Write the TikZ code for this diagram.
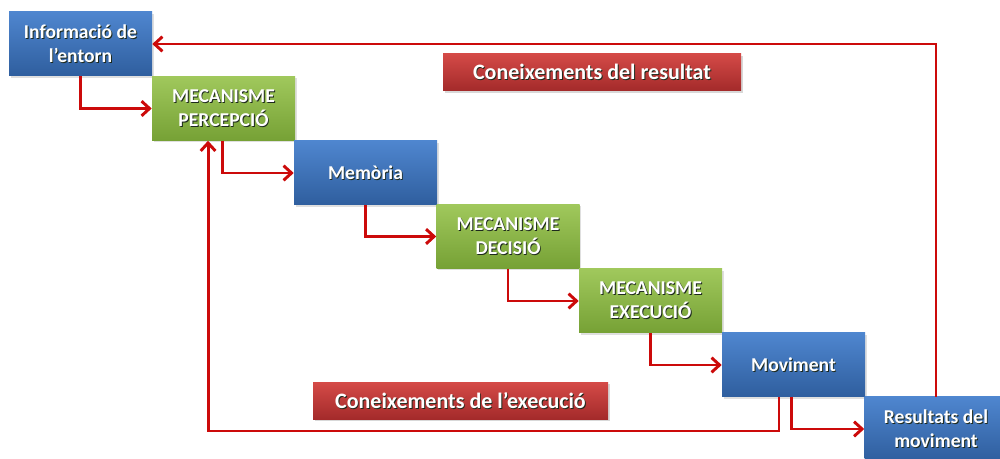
\documentclass[tikz,border=0pt]{standalone}
\usepackage{fontspec}
\setmainfont{Carlito}
\usetikzlibrary{arrows.meta,shadows}
\definecolor{bluetop}{HTML}{4F86CF}
\definecolor{bluebot}{HTML}{2F5E9E}
\definecolor{greentop}{HTML}{A0C85C}
\definecolor{greenbot}{HTML}{76A135}
\definecolor{redtop}{HTML}{D44A47}
\definecolor{redbot}{HTML}{A32A2A}
\definecolor{arrowred}{HTML}{CC0A0A}
\definecolor{txtshadow}{HTML}{2A3A2A}
\newcommand{\sht}[1]{\leavevmode\rlap{\hspace{0.7pt}\raisebox{-0.7pt}{\textcolor{txtshadow!70!black}{#1}}}#1}
\tikzset{
  box/.style={rectangle, minimum width=107.25pt, minimum height=48pt, inner sep=1pt,
    text=white, align=center, font=\bfseries\fontsize{14.7}{18}\selectfont,
    drop shadow={shadow xshift=1.2pt, shadow yshift=-1.2pt, opacity=0.25}},
  bluebox/.style={box, top color=bluetop, bottom color=bluebot},
  greenbox/.style={box, top color=greentop, bottom color=greenbot},
  labelbox/.style={rectangle, inner sep=0pt, text=white, font=\bfseries\fontsize{16.5}{20}\selectfont,
    top color=redtop, bottom color=redbot, minimum height=27.75pt,
    drop shadow={shadow xshift=1.2pt, shadow yshift=-1.2pt, opacity=0.3}},
  conn/.style={draw=arrowred, line width=2.2pt, -{Straight Barb[length=6pt,width=11pt,line width=2.2pt]}}
}
\begin{document}
\begin{tikzpicture}[x=0.75pt,y=-0.75pt]
\useasboundingbox (0,0) rectangle (1000,459);
\clip (0,0) rectangle (1000,459);
\fill[white] (0,0) rectangle (1000,459);

\node[bluebox] (info) at (80.5,44) {\sht{Informació de}\\\sht{l’entorn}};
\node[greenbox] (perc) at (223.5,108.5) {\sht{MECANISME}\\\sht{PERCEPCIÓ}};
\node[bluebox] (mem) at (365.5,173) {\sht{Memòria}};
\node[greenbox] (dec) at (508,236.5) {\sht{MECANISME}\\\sht{DECISIÓ}};
\node[greenbox] (exe) at (650.5,301) {\sht{MECANISME}\\\sht{EXECUCIÓ}};
\node[bluebox] (mov) at (793.5,365) {\sht{Moviment}};
\node[bluebox] (res) at (936,429) {\sht{Resultats del}\\\sht{moviment}};

\node[labelbox, minimum width=223.5pt] (kr) at (592,72.5) {\sht{Coneixements del resultat}};
\node[labelbox, minimum width=221.25pt] (ke) at (460.5,401) {\sht{Coneixements de l’execució}};

\draw[conn] (info.south) |- (perc.west);
\draw[conn] ([xshift=-1pt]perc.south) |- (mem.west);
\draw[conn] (mem.south) |- (dec.west);
\draw[conn] (dec.south) |- (exe.west);
\draw[conn] (exe.south) |- (mov.west);
\draw[conn] ([xshift=-1.5pt]mov.south) |- (res.west);
\coordinate (fbturn) at ([xshift=-10.9pt]mov.south |- 0,431);
\draw[conn] ([xshift=-10.9pt]mov.south) -- (fbturn) -| ([xshift=-11.6pt]perc.south);
\draw[conn] (res.north) |- (info.east);
\end{tikzpicture}
\end{document}
